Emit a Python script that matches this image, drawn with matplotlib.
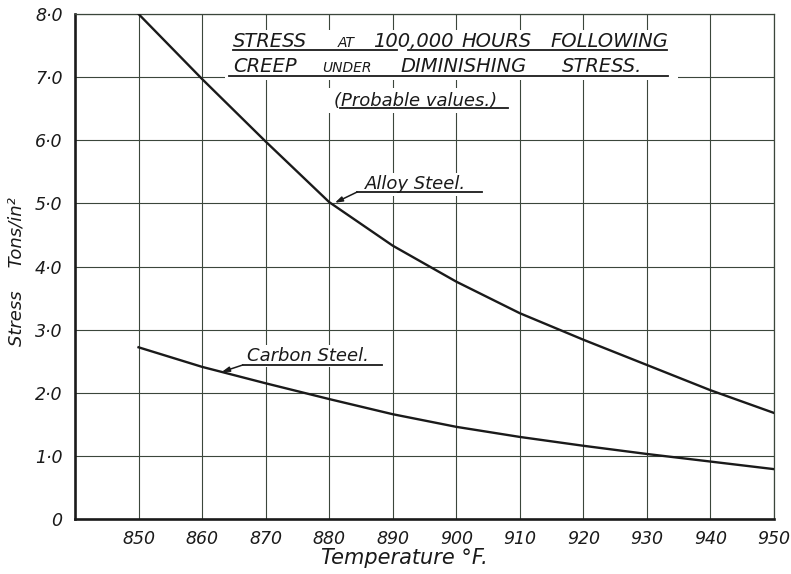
import matplotlib
matplotlib.use("Agg")
import matplotlib.pyplot as plt
from matplotlib.lines import Line2D
from matplotlib.patches import Rectangle

temps = [850, 860, 870, 880, 890, 900, 910, 920, 930, 940, 950]
alloy_steel = [8.0, 6.97, 5.98, 5.02, 4.33, 3.76, 3.26, 2.84, 2.44, 2.04, 1.68]
carbon_steel = [2.72, 2.41, 2.15, 1.90, 1.66, 1.46, 1.30, 1.16, 1.03, 0.91, 0.79]

x_ticks = [850, 860, 870, 880, 890, 900, 910, 920, 930, 940, 950]
y_ticks = [0, 1, 2, 3, 4, 5, 6, 7, 8]
y_tick_labels = ["0", "1·0", "2·0", "3·0", "4·0", "5·0", "6·0", "7·0", "8·0"]

W, H = 791, 574
ink = "#1a1a1a"
grid_col = "#3b463b"

plt.rcParams["font.family"] = ["DejaVu Sans"]

fig = plt.figure(figsize=(W / 100, H / 100), dpi=100)
ax = fig.add_axes([75 / W, 1 - 519 / H, 699 / W, 505 / H])

ax.plot(temps, alloy_steel, color=ink, lw=1.7, zorder=4, solid_joinstyle="round")
ax.plot(temps, carbon_steel, color=ink, lw=1.7, zorder=4, solid_joinstyle="round")

ax.set_xlim(840, 950)
ax.set_ylim(0, 8)
ax.set_xticks(x_ticks)
ax.set_yticks(y_ticks)
ax.set_yticklabels(y_tick_labels)
ax.set_axisbelow(True)
ax.grid(True, color=grid_col, lw=0.8)
ax.tick_params(length=0, labelsize=12.5, colors=ink)
ax.tick_params(axis="x", pad=8)
ax.tick_params(axis="y", pad=9)
for lab in ax.get_xticklabels() + ax.get_yticklabels():
    lab.set_fontstyle("italic")

for side in ["left", "bottom"]:
    ax.spines[side].set_linewidth(1.9)
    ax.spines[side].set_color(ink)
for side in ["top", "right"]:
    ax.spines[side].set_linewidth(0.9)
    ax.spines[side].set_color(grid_col)

ax.set_xlabel("Temperature °F.", fontsize=15, fontstyle="italic", color=ink)
ax.xaxis.set_label_coords((404 - 75) / 699, (519 - 548) / 505)
ax.set_ylabel("Stress    Tons/in²", fontsize=13, fontstyle="italic", color=ink)
ax.yaxis.set_label_coords((26 - 75) / 699, (519 - 272) / 505)

# white panels behind the title lettering
ax.add_patch(Rectangle(((225 - 75) / 699, (519 - 80) / 505), 453 / 699, 50 / 505,
                       transform=ax.transAxes, fc="white", ec="none", zorder=2))
ax.add_patch(Rectangle(((328 - 75) / 699, (519 - 113) / 505), 188 / 699, 25 / 505,
                       transform=ax.transAxes, fc="white", ec="none", zorder=2))


def ftext(x, y, s, size):
    fig.text(x / W, 1 - y / H, s, fontsize=size, fontstyle="italic", color=ink,
             ha="left", va="baseline", zorder=5)


def fline(x0, x1, y):
    fig.add_artist(Line2D([x0 / W, x1 / W], [1 - y / H, 1 - y / H],
                          color=ink, lw=1.3, zorder=5))


# title, hand-lettered with small capitals
ftext(233, 47, "STRESS", 14)
ftext(338, 47, "AT", 10)
ftext(373, 47, "100,000", 14)
ftext(461, 47, "HOURS", 14)
ftext(550, 47, "FOLLOWING", 14)
fline(233, 397, 50)
fline(408, 667, 50)

ftext(233, 72, "CREEP", 14)
ftext(322, 72, "UNDER", 10)
ftext(400, 72, "DIMINISHING", 14)
ftext(562, 72, "STRESS.", 14)
fline(229, 668, 76)

ftext(334, 106, "(Probable values.)", 13)
fline(340, 508, 108)

# curve labels with leader arrows
ax.text(885.6, 5.22, "Alloy Steel.", fontsize=13, fontstyle="italic", color=ink,
        zorder=3, bbox=dict(fc="white", ec="none", pad=1.5))
ax.plot([884.4, 904.0], [5.18, 5.18], color=ink, lw=1.3, zorder=5)
ax.annotate("", xy=(880.9, 5.01), xytext=(884.4, 5.18),
            arrowprops=dict(arrowstyle="-|>,head_length=0.45,head_width=0.15",
                            color=ink, lw=1.1, shrinkA=0, shrinkB=0), zorder=5)

ax.text(867.1, 2.50, "Carbon Steel.", fontsize=13, fontstyle="italic", color=ink,
        zorder=3, bbox=dict(fc="white", ec="none", pad=1.5))
ax.plot([866.4, 888.3], [2.44, 2.44], color=ink, lw=1.3, zorder=5)
ax.annotate("", xy=(863.1, 2.33), xytext=(866.4, 2.44),
            arrowprops=dict(arrowstyle="-|>,head_length=0.45,head_width=0.15",
                            color=ink, lw=1.1, shrinkA=0, shrinkB=0), zorder=5)

fig.savefig("out.png", dpi=100)
